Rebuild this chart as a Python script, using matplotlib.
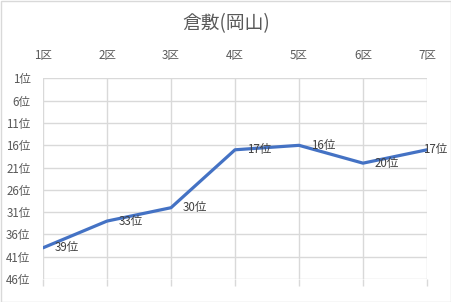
import matplotlib
matplotlib.use("Agg")
import matplotlib.pyplot as plt
from matplotlib.patches import Rectangle

plt.rcParams['font.family'] = ['Noto Sans CJK JP', 'DejaVu Sans']

title = "倉敷(岡山)"
categories = ["1区", "2区", "3区", "4区", "5区", "6区", "7区"]
ranks = [39, 33, 30, 17, 16, 20, 17]
ytick_values = [1, 6, 11, 16, 21, 26, 31, 36, 41, 46]
ytick_labels = [f"{v}位" for v in ytick_values]

W, H = 452, 302
fig = plt.figure(figsize=(W / 100, H / 100), dpi=100)
fig.patch.set_facecolor("white")
fig.patches.append(Rectangle((0.5 / W, 0.5 / H), 1 - 1.5 / W, 1 - 1.5 / H,
                             transform=fig.transFigure, fill=False,
                             edgecolor="#D9D9D9", linewidth=1))

left_px, right_px, top_px, bottom_px = 43, 427, 78.5, 279
ax = fig.add_axes([left_px / W, (H - bottom_px) / H,
                   (right_px - left_px) / W, (bottom_px - top_px) / H])

text_color = "#595959"
grid_color = "#D9D9D9"

x = list(range(len(categories)))
ax.plot(x, ranks, color="#4472C4", linewidth=2.3, solid_capstyle="round",
        solid_joinstyle="round", zorder=3)

for i, (xi, r) in enumerate(zip(x, ranks)):
    dx = 12 if i < len(x) - 1 else -4
    ax.annotate(f"{r}位", (xi, r), xytext=(dx, 0), textcoords="offset pixels",
                ha="left", va="center", fontsize=8.3, color="#404040", zorder=4)

ax.set_xlim(0, len(categories) - 1)
ax.set_ylim(46, 1)
ax.set_xticks(x)
ax.set_xticklabels(categories)
ax.set_yticks(ytick_values)
ax.set_yticklabels(ytick_labels)

ax.xaxis.set_ticks_position("bottom")
ax.tick_params(axis="x", which="both", top=False, bottom=True, labeltop=True,
               labelbottom=False, length=5, color=grid_color, width=1,
               labelsize=8.3, labelcolor=text_color, pad=7)
ax.tick_params(axis="y", length=0, labelsize=8.3, labelcolor=text_color, pad=9)

ax.grid(True, color=grid_color, linewidth=1)
ax.set_axisbelow(True)
for s in ax.spines.values():
    s.set_visible(False)

fig.text(0.5, 1 - 24 / H, title, ha="center", va="center", fontsize=13.5,
         color=text_color)

fig.savefig("out.png", dpi=100)
